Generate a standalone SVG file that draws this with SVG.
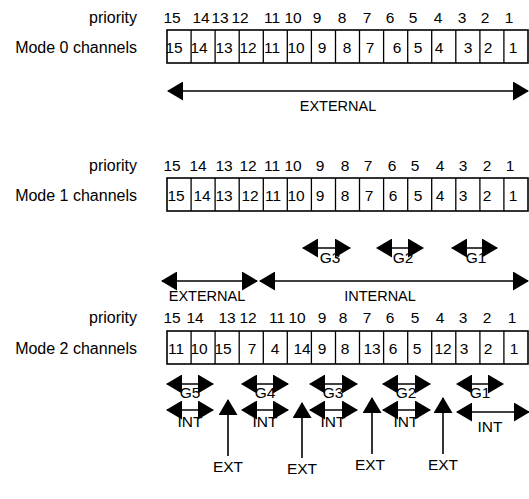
<svg xmlns="http://www.w3.org/2000/svg" width="529" height="499" viewBox="0 0 529 499">
<style>
text{font-family:"Liberation Sans",Arial,sans-serif;font-size:15.5px;fill:#000}
.lb{font-size:16px}
.sm{font-size:14.5px}
.m{text-anchor:middle}
.r{text-anchor:end}
.box{fill:#fff;stroke:#000;stroke-width:1.6}
.div{stroke:#000;stroke-width:1.3}
.arr{stroke:#000;stroke-width:1.6;fill:none}
.ar2{marker-start:url(#ah);marker-end:url(#ah)}
.ar1{marker-end:url(#ah)}
</style>
<defs>
<marker id="ah" viewBox="0 0 16 19" markerWidth="16" markerHeight="19" refX="15" refY="9.5" orient="auto-start-reverse" markerUnits="userSpaceOnUse">
<path d="M0,0 L16,9.5 L0,19 z" fill="#000"/>
</marker>
<g id="dividers">
<line x1="191.1" y1="0" x2="191.1" y2="33"/><line x1="215.1" y1="0" x2="215.1" y2="33"/><line x1="239.2" y1="0" x2="239.2" y2="33"/><line x1="263.3" y1="0" x2="263.3" y2="33"/><line x1="287.3" y1="0" x2="287.3" y2="33"/><line x1="311.4" y1="0" x2="311.4" y2="33"/><line x1="335.5" y1="0" x2="335.5" y2="33"/><line x1="359.5" y1="0" x2="359.5" y2="33"/><line x1="383.6" y1="0" x2="383.6" y2="33"/><line x1="407.7" y1="0" x2="407.7" y2="33"/><line x1="431.7" y1="0" x2="431.7" y2="33"/><line x1="455.8" y1="0" x2="455.8" y2="33"/><line x1="479.9" y1="0" x2="479.9" y2="33"/><line x1="503.9" y1="0" x2="503.9" y2="33"/>
</g>
</defs>

<!-- Mode 0 -->
<g id="mode0">
<text class="r lb" x="137" y="23">priority</text>
<g class="m">
<text x="172" y="23">15</text><text x="201" y="23">14</text><text x="220" y="23">13</text><text x="240" y="23">12</text><text x="272" y="23">11</text><text x="293" y="23">10</text><text x="317" y="23">9</text><text x="342" y="23">8</text><text x="367" y="23">7</text><text x="390" y="23">6</text><text x="413" y="23">5</text><text x="438" y="23">4</text><text x="462" y="23">3</text><text x="485" y="23">2</text><text x="509" y="23">1</text>
</g>
<text class="r lb" x="137" y="53">Mode 0 channels</text>
<rect class="box" x="167" y="30" width="361" height="33"/>
<use href="#dividers" class="div" transform="translate(0,30)"/>
<g class="m">
<text x="174" y="53">15</text><text x="199" y="53">14</text><text x="224" y="53">13</text><text x="248" y="53">12</text><text x="272" y="53">11</text><text x="296" y="53">10</text><text x="322" y="53">9</text><text x="347" y="53">8</text><text x="370" y="53">7</text><text x="397" y="53">6</text><text x="418" y="53">5</text><text x="439" y="53">4</text><text x="468" y="53">3</text><text x="488" y="53">2</text><text x="513" y="53">1</text>
</g>
<text class="m sm" x="338" y="111">EXTERNAL</text>
</g>

<!-- Mode 1 -->
<g id="mode1">
<text class="r lb" x="137" y="171">priority</text>
<g class="m">
<text x="172" y="171">15</text><text x="198" y="171">14</text><text x="224" y="171">13</text><text x="248" y="171">12</text><text x="272" y="171">11</text><text x="293" y="171">10</text><text x="320" y="171">9</text><text x="345" y="171">8</text><text x="368" y="171">7</text><text x="392" y="171">6</text><text x="415" y="171">5</text><text x="440" y="171">4</text><text x="463" y="171">3</text><text x="487" y="171">2</text><text x="510" y="171">1</text>
</g>
<text class="r lb" x="137" y="201">Mode 1 channels</text>
<rect class="box" x="167" y="178" width="361" height="33"/>
<use href="#dividers" class="div" transform="translate(0,178)"/>
<g class="m">
<text x="176" y="201">15</text><text x="202" y="201">14</text><text x="224" y="201">13</text><text x="250" y="201">12</text><text x="273" y="201">11</text><text x="296" y="201">10</text><text x="320" y="201">9</text><text x="345" y="201">8</text><text x="369" y="201">7</text><text x="393" y="201">6</text><text x="418" y="201">5</text><text x="440" y="201">4</text><text x="463" y="201">3</text><text x="487" y="201">2</text><text x="513" y="201">1</text>
</g>
<g class="m">
<text x="330" y="263">G3</text><text x="403" y="263">G2</text><text x="476" y="263">G1</text>
<text class="sm" x="207" y="301">EXTERNAL</text><text class="sm" x="380" y="301">INTERNAL</text>
</g>
</g>

<!-- Mode 2 -->
<g id="mode2">
<text class="r lb" x="137" y="323">priority</text>
<g class="m">
<text x="172" y="323">15</text><text x="195" y="323">14</text><text x="227" y="323">13</text><text x="248" y="323">12</text><text x="277" y="323">11</text><text x="297" y="323">10</text><text x="322" y="323">9</text><text x="343" y="323">8</text><text x="367" y="323">7</text><text x="390" y="323">6</text><text x="415" y="323">5</text><text x="440" y="323">4</text><text x="463" y="323">3</text><text x="487" y="323">2</text><text x="512" y="323">1</text>
</g>
<text class="r lb" x="137" y="354">Mode 2 channels</text>
<rect class="box" x="167" y="331" width="361" height="33"/>
<use href="#dividers" class="div" transform="translate(0,331)"/>
<g class="m">
<text x="176" y="354">11</text><text x="199" y="354">10</text><text x="223" y="354">15</text><text x="252" y="354">7</text><text x="275" y="354">4</text><text x="302" y="354">14</text><text x="322" y="354">9</text><text x="345" y="354">8</text><text x="372" y="354">13</text><text x="393" y="354">6</text><text x="417" y="354">5</text><text x="443" y="354">12</text><text x="464" y="354">3</text><text x="488" y="354">2</text><text x="514" y="354">1</text>
</g>
<g class="m">
<text x="190" y="398">G5</text><text x="265" y="398">G4</text><text x="333" y="398">G3</text><text x="406" y="398">G2</text><text x="480" y="398">G1</text>
<text x="190" y="427">INT</text><text x="265" y="427">INT</text><text x="333" y="427">INT</text><text x="406" y="427">INT</text><text x="490" y="432">INT</text>
<text x="228" y="472">EXT</text><text x="302" y="474">EXT</text><text x="370" y="470">EXT</text><text x="443" y="470">EXT</text>
</g>
</g>

<!-- Connectors -->
<g id="connectors" class="arr">
<line class="ar2" x1="168" y1="91" x2="528" y2="91"/>
<line class="ar2" x1="303" y1="248" x2="350" y2="248"/>
<line class="ar2" x1="377" y1="248" x2="423" y2="248"/>
<line class="ar2" x1="452" y1="248" x2="497" y2="248"/>
<line class="ar2" x1="162" y1="281" x2="257" y2="281"/>
<line class="ar2" x1="260" y1="281" x2="528" y2="281"/>
<line class="ar2" x1="167" y1="384" x2="213" y2="384"/>
<line class="ar2" x1="242" y1="384" x2="288" y2="384"/>
<line class="ar2" x1="310" y1="384" x2="357" y2="384"/>
<line class="ar2" x1="383" y1="384" x2="430" y2="384"/>
<line class="ar2" x1="457" y1="384" x2="503" y2="384"/>
<line class="ar2" x1="167" y1="410" x2="213" y2="410"/>
<line class="ar2" x1="242" y1="410" x2="288" y2="410"/>
<line class="ar2" x1="310" y1="410" x2="357" y2="410"/>
<line class="ar2" x1="383" y1="410" x2="430" y2="410"/>
<line class="ar2" x1="457" y1="412" x2="529" y2="412"/>
<line class="ar1" x1="228" y1="456" x2="228" y2="400"/>
<line class="ar1" x1="302" y1="458" x2="302" y2="403"/>
<line class="ar1" x1="372" y1="454" x2="372" y2="398"/>
<line class="ar1" x1="443" y1="454" x2="443" y2="398"/>
</g>
</svg>
